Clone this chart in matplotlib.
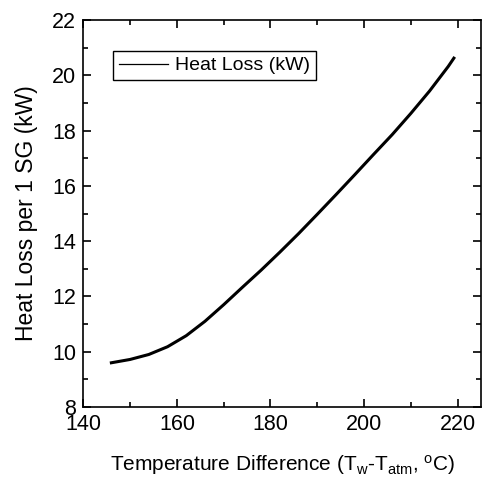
import numpy as np
from matplotlib import pyplot as plt

plt.rcParams['font.family'] = ['Liberation Sans', 'DejaVu Sans']
plt.rcParams['mathtext.fontset'] = 'custom'
plt.rcParams['mathtext.rm'] = 'Liberation Sans'
plt.rcParams['mathtext.it'] = 'Liberation Sans'

# values
temp_diff = [146, 150, 154, 158, 162, 166, 170, 174, 178, 182, 186, 190,
             194, 198, 202, 206, 210, 214, 218, 219.2]
heat_loss = [9.60, 9.72, 9.90, 10.18, 10.58, 11.10, 11.70, 12.33, 12.95, 13.60,
             14.27, 14.97, 15.68, 16.40, 17.13, 17.85, 18.62, 19.43, 20.32, 20.62]

fig = plt.figure(figsize=(4.82, 4.84), dpi=100)
ax = fig.add_axes([83.3/482, 1-407/484, (481-83.3)/482, (407-20)/484])

ax.plot(temp_diff, heat_loss, c='k', lw=2.2, label='Heat Loss (kW)')

ax.set_xlim(140, 225)
ax.set_ylim(8, 22)
ax.set_xticks(np.arange(140, 221, 20))
ax.set_xticks(np.arange(150, 225, 20), minor=True)
ax.set_yticks(np.arange(8, 23, 2))
ax.set_yticks(np.arange(9, 22, 2), minor=True)
ax.tick_params(which='both', direction='in', top=True, right=True, labelsize=15.5, width=1.2)
ax.tick_params(which='major', length=6, pad=5)
ax.tick_params(which='minor', length=3.5)
for s in ax.spines.values():
    s.set_linewidth(1.2)

ax.set_xlabel(r'Temperature Difference (T$_\mathregular{w}$-T$_\mathregular{atm}$, $^\mathregular{o}$C)',
              fontsize=15, labelpad=13)
ax.set_ylabel('Heat Loss per 1 SG (kW)', fontsize=16.5, labelpad=10)

leg = ax.legend(loc='upper left', bbox_to_anchor=(0.075, 0.92), bbox_transform=ax.transAxes,
                borderaxespad=0, fontsize=14, fancybox=False, edgecolor='k', framealpha=1,
                handlelength=2.5, borderpad=0.3, handletextpad=0.4)
leg.get_frame().set_linewidth(1.0)
for l in leg.get_lines():
    l.set_linewidth(0.9)

fig.savefig('out.png', dpi=100)
